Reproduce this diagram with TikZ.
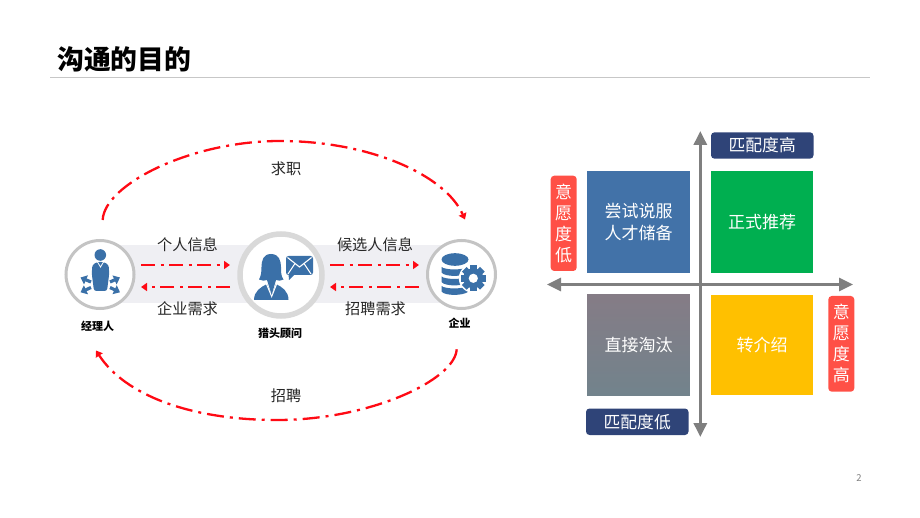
\documentclass[tikz,border=0pt]{standalone}
\usepackage{fontspec}
\setmainfont{Noto Sans CJK SC}
\usetikzlibrary{arrows.meta}
\definecolor{iconblue}{HTML}{3A70A8}
\definecolor{arrowred}{HTML}{FF0A14}
\definecolor{axisgray}{HTML}{7F7F7F}
\definecolor{pillnavy}{HTML}{2F4478}
\definecolor{pillred}{HTML}{FF5046}
\definecolor{bandgray}{HTML}{EFEFF3}
\definecolor{blockblue}{HTML}{4272A8}
\definecolor{blockgreen}{HTML}{00AF50}
\definecolor{blockyellow}{HTML}{FFC000}
\definecolor{greytop}{HTML}{857C86}
\definecolor{greybot}{HTML}{72838C}
\tikzset{
  x=1pt,y=-1pt,
  lbl/.style={font=\fontsize{15.2}{18}\selectfont,text=black!85,inner sep=0pt},
  captxt/.style={font=\fontsize{11}{13}\selectfont\bfseries,text=black,inner sep=0pt},
  ring/.style={circle,draw=#1,fill=white,inner sep=0pt},
  flowarrow/.style={draw=arrowred,line width=2.6pt,dash pattern=on 14pt off 5.5pt on 3pt off 5.5pt,-{Triangle[length=6pt,width=8pt]}},
  arcarrow/.style={draw=arrowred,line width=2.3pt,dash pattern=on 17pt off 6pt on 3pt off 6pt,-{Triangle[length=6pt,width=8pt]}},
  axisline/.style={draw=axisgray,line width=3pt,{Triangle[length=14pt,width=13pt]}-{Triangle[length=14pt,width=13pt]}},
  block/.style={inner sep=0pt,minimum width=102.5pt,text=white,align=center,font=\fontsize{17}{21.7}\selectfont},
  pill/.style={inner sep=0pt,text=white,align=center,font=\fontsize{16.8}{21}\selectfont},
}
\begin{document}
\begin{tikzpicture}
\useasboundingbox (0,0) rectangle (920,518);
% title
\node[anchor=west,inner sep=0pt,font=\fontsize{26.8}{30}\selectfont\bfseries,text=black] (title) at (57,59) {沟通的目的};
\coordinate (ruleL) at (50,77.5);
\coordinate (ruleR) at (870,77.5);
\draw[black!22,line width=0.8pt] (ruleL) -- (ruleR);
\node[font=\fontsize{9.5}{11}\selectfont,text=black!50,inner sep=0pt] (pageno) at (859,478.5) {2};
% band
\fill[bandgray] (100,245) rectangle (461,303);
% circles
\node[ring=black!23,line width=3pt,minimum size=68pt] (mgr) at (100,274.5) {};
\node[ring=black!15,line width=5.5pt,minimum size=82pt] (hunter) at (281,275) {};
\node[ring=black!23,line width=3pt,minimum size=68pt] (corp) at (461.5,274.5) {};
% manager icon
\fill[iconblue] (100.3,255) circle[radius=5.8pt];
\fill[iconblue,rounded corners=2.5pt] (91.8,274) -- (92.3,265) -- (97,262) -- (104,262) -- (108.7,265) -- (109.2,274) -- (107,291) -- (94,291) -- cycle;
\draw[white,line width=0.8pt] (97.5,262) -- (100.5,267) -- (103.5,262);
\foreach \tx/\ty/\hx/\hy in {91/282/80.5/277.5, 91/287.5/80.5/292.3, 110/282/120/277.5, 110/287.5/120/292.3}
  \draw[iconblue,line width=3.2pt,-{Triangle[length=6pt,width=9.5pt]}] (\tx,\ty) -- (\hx,\hy);
% consultant icon
\fill[iconblue] (254,300) .. controls (254,291) and (261,287) .. (267,284) -- (271.7,296) -- (276,284) .. controls (282,287) and (288.5,291) .. (288.5,300) -- cycle;
\draw[white,line width=1pt] (266,283) -- (271.7,296.5) -- (277,283);
\fill[iconblue] (271,254) .. controls (263,254) and (261.5,261) .. (261.5,267) .. controls (261.5,272) and (261,276) .. (259,279.5) .. controls (262,281) and (265,281) .. (267,280) -- (271.7,295) -- (276,280) .. controls (278,281) and (281,281) .. (283.5,279.5) .. controls (281,276) and (281,272) .. (281,267) .. controls (281,261) and (279,254) .. (271,254) -- cycle;
\fill[iconblue,rounded corners=2.5pt] (286,256) rectangle (313,275);
\fill[iconblue] (288.5,274) -- (289,280) -- (295,274) -- cycle;
\draw[white,line width=1.1pt] (287.5,257.5) -- (299.5,267) -- (311.5,257.5);
\draw[white,line width=1.1pt] (288,274) -- (295,263.5) (311,274) -- (304,263.5);
% database + gear icon
\fill[iconblue] (455,259.5) ellipse[x radius=13.5pt,y radius=6.3pt];
\foreach \yy in {267,276.5,286}
  \fill[iconblue] (441.6,\yy) .. controls (445,\yy+3.2) and (463,\yy+3.2) .. (468.4,\yy) -- (468.4,\yy+5.6) .. controls (463,\yy+10) and (445,\yy+10) .. (441.6,\yy+5.6) -- cycle;
\fill[white] (473.3,278.3) circle[radius=14.5pt];
\fill[iconblue] (473.3,278.3) circle[radius=10pt];
\foreach \a in {0,45,...,315}
  \fill[iconblue,rotate around={\a:(473.3,278.3)}] (470,265.5) rectangle (476.6,270);
\fill[white] (473.3,278.3) circle[radius=4.6pt];
% captions
\node[captxt] (mgrcap) at (97.5,326) {经理人};
\node[captxt] (huntercap) at (280,333) {猎头顾问};
\node[captxt] (corpcap) at (459.5,323) {企业};
% labels
\node[lbl] (l1) at (187.5,245) {个人信息};
\node[lbl] (l2) at (187.5,309) {企业需求};
\node[lbl] (l3) at (375,245) {候选人信息};
\node[lbl] (l4) at (375.5,309) {招聘需求};
\node[lbl] (l5) at (286,169) {求职};
\node[lbl] (l6) at (286,396) {招聘};
% connectors
\coordinate (a1s) at (141,265); \coordinate (a1e) at (230,265);
\coordinate (a2s) at (230,287); \coordinate (a2e) at (141,287);
\coordinate (a3s) at (330,265); \coordinate (a3e) at (419,265);
\coordinate (a4s) at (419,287); \coordinate (a4e) at (330,287);
\draw[flowarrow] (a1s) -- (a1e);
\draw[flowarrow] (a2s) -- (a2e);
\draw[flowarrow] (a3s) -- (a3e);
\draw[flowarrow] (a4s) -- (a4e);
\coordinate (t0) at (102.7,220); \coordinate (t1) at (280,141); \coordinate (t2) at (465,219.5);
\coordinate (b0) at (456.7,349.3); \coordinate (b1) at (277,420); \coordinate (b2) at (96,350.5);
\draw[arcarrow] (t0) .. controls (104,185) and (190,141) .. (t1) .. controls (370,141) and (445,175) .. (t2);
\draw[arcarrow] (b0) .. controls (455,380) and (370,420) .. (b1) .. controls (190,420) and (125,395) .. (b2);
% matrix blocks
\node[block,fill=blockblue,minimum height=102.5pt] (q1) at (638.5,222) {尝试说服\\人才储备};
\node[block,fill=blockgreen,minimum height=102.5pt] (q2) at (762,222) {正式推荐};
\shade[top color=greytop,bottom color=greybot] (587.2,295) rectangle (689.8,395);
\node[block,minimum height=100pt] (q3) at (638.5,345) {直接淘汰};
\node[block,fill=blockyellow,minimum height=100pt] (q4) at (762,345) {转介绍};
% axes
\coordinate (xL) at (547,284.5); \coordinate (xR) at (853,284.5);
\coordinate (yT) at (700.3,131); \coordinate (yB) at (700.3,437);
\draw[axisline] (xL) -- (xR);
\draw[axisline] (yT) -- (yB);
% pills
\fill[pillnavy,rounded corners=3.5pt] (711,132.3) rectangle (813.5,158.7);
\node[pill] (p1) at (762.2,145.5) {匹配度高};
\fill[pillnavy,rounded corners=3.5pt] (586,408.5) rectangle (688.5,435);
\node[pill] (p2) at (637.2,421.7) {匹配度低};
\fill[pillred,rounded corners=3.5pt] (550.7,175.7) rectangle (576.7,271);
\node[pill,font=\fontsize{17}{21}\selectfont] (p3) at (563.7,223.3) {意\\愿\\度\\低};
\fill[pillred,rounded corners=3.5pt] (828.3,296) rectangle (854.3,391.7);
\node[pill,font=\fontsize{17}{21}\selectfont] (p4) at (841.3,343.8) {意\\愿\\度\\高};
\end{tikzpicture}
\end{document}
